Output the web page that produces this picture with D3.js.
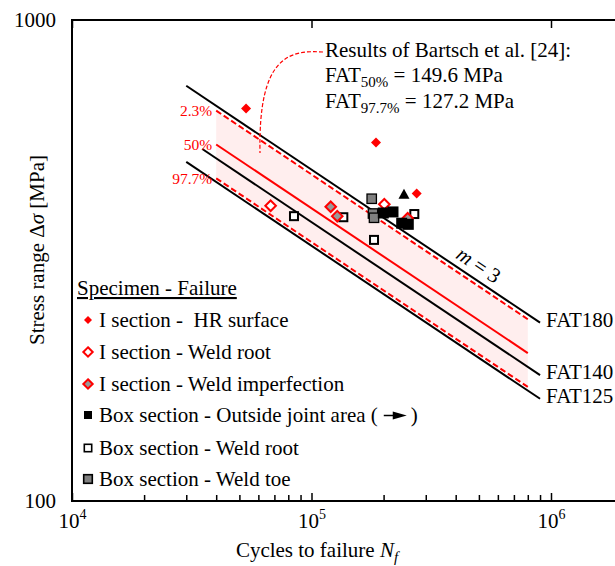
<!DOCTYPE html>
<html>
<head>
<meta charset="utf-8">
<script src="https://cdn.jsdelivr.net/npm/d3@7"></script>
<style>
  body { margin: 0; background: #fff; }
  text { font-family: "Liberation Serif", "Times New Roman", serif; fill: #000; white-space: pre; }
</style>
</head>
<body>
<div id="chart"></div>
<script>
// test results, N = cycles, s = stress range [MPa]
const iHR = [{n: 53300, s: 655}, {n: 185900, s: 556}, {n: 274900, s: 436}];
const iRoot = [{n: 67500, s: 411}, {n: 201400, s: 414}];
const iImp = [{n: 120300, s: 409}, {n: 128100, s: 391}, {n: 252100, s: 387}];
const boxOut = [{n: 199400, s: 397}, {n: 218900, s: 399}, {n: 238000, s: 378}, {n: 253600, s: 376}];
const boxOutUp = [{n: 243300, s: 434}];
const boxRoot = [{n: 84500, s: 391}, {n: 135800, s: 389}, {n: 268700, s: 395}, {n: 182400, s: 349}];
const boxToe = [{n: 178400, s: 425}, {n: 180600, s: 396}, {n: 182400, s: 388}];

// design curves (m = 3, reference at 2e6)
const fatNames = ["FAT180", "FAT140", "FAT125"];
const fatValues = [180, 140, 125];
const fatStart = [3e4, 3.5e4, 3e4];
const fatEnd = 9e5;

// Bartsch et al. scatter band
const bandLabels = ["2.3%", "50%", "97.7%"];
const bandFat = [175.9, 149.6, 127.2];
const bandRange = [4e4, 8e5];

const legendLabels = [
  "I section -  HR surface",
  "I section - Weld root",
  "I section - Weld imperfection",
  "Box section - Outside joint area (",
  "Box section - Weld root",
  "Box section - Weld toe"
];

const xMajor = [1e4, 1e5, 1e6];
const xMinor = [2, 3, 4, 5, 6, 7, 8, 9].flatMap(k => [k * 1e4, k * 1e5]).concat([2e6]);
const yMinor = [200, 300, 400, 500, 600, 700, 800, 900];
const yLabels = [100, 1000];

const width = 615, height = 566;
const red = "#ff0000";
const fs = "21px";

const svg = d3.select("#chart").append("svg")
  .attr("width", width).attr("height", height);

const x = d3.scaleLog().domain([1e4, 1e6]).range([72, 551]);
const y = d3.scaleLog().domain([100, 1000]).range([501, 20]);

const sn = (fat, n) => fat * Math.pow(2e6 / n, 1 / 3);

// scatter band
svg.append("path")
  .attr("d", d3.line()([
    [x(bandRange[0]), y(sn(bandFat[0], bandRange[0]))],
    [x(bandRange[1]), y(sn(bandFat[0], bandRange[1]))],
    [x(bandRange[1]), y(sn(bandFat[2], bandRange[1]))],
    [x(bandRange[0]), y(sn(bandFat[2], bandRange[0]))]
  ]) + "Z")
  .attr("fill", "#ffeeee");

// FAT lines
fatValues.forEach((f, i) => {
  svg.append("line")
    .attr("x1", x(fatStart[i])).attr("y1", y(sn(f, fatStart[i])))
    .attr("x2", x(fatEnd)).attr("y2", y(sn(f, fatEnd)))
    .attr("stroke", "#000").attr("stroke-width", 2);
  svg.append("text")
    .attr("x", x(fatEnd) + 6).attr("y", y(sn(f, fatEnd)) - 3)
    .attr("dy", "0.35em")
    .style("font-size", fs)
    .text(fatNames[i]);
});

// band lines
bandFat.forEach((f, i) => {
  svg.append("line")
    .attr("x1", x(bandRange[0])).attr("y1", y(sn(f, bandRange[0])))
    .attr("x2", x(bandRange[1])).attr("y2", y(sn(f, bandRange[1])))
    .attr("stroke", red).attr("stroke-width", 2)
    .attr("stroke-dasharray", i === 1 ? null : "6,3");
  svg.append("text")
    .attr("x", x(bandRange[0]) - 4).attr("y", y(sn(f, bandRange[0])))
    .attr("dy", "0.35em")
    .attr("text-anchor", "end")
    .style("font-size", "15.5px")
    .style("fill", red)
    .text(bandLabels[i]);
});

// m = 3 label along FAT180
const mN = 4.8e5;
const angle = Math.atan2(y(sn(180, 9e5)) - y(sn(180, 3e4)), x(9e5) - x(3e4)) * 180 / Math.PI;
const mt = svg.append("text")
  .attr("transform", `translate(${x(mN)},${y(sn(180, mN)) - 8}) rotate(${angle})`)
  .attr("text-anchor", "middle")
  .style("font-size", fs);
mt.append("tspan").style("font-style", "italic").text("m");
mt.append("tspan").text(" = 3");

// annotation connector
const conn = [[111700, 858], [81300, 866], [59800, 846], [60950, 529]].map(d => [x(d[0]), y(d[1])]);
svg.append("path")
  .attr("d", `M${conn[0]}C${conn[1]} ${conn[2]} ${conn[3]}`)
  .attr("fill", "none")
  .attr("stroke", red).attr("stroke-width", 1.2)
  .attr("stroke-dasharray", "4,2");

const ann = svg.append("g").style("font-size", fs);
ann.append("text").attr("x", 325).attr("y", 57).text("Results of Bartsch et al. [24]:");
const a2 = ann.append("text").attr("x", 325).attr("y", 82);
a2.append("tspan").text("FAT");
a2.append("tspan").attr("dy", 5).style("font-size", "15px").text("50%");
a2.append("tspan").attr("dy", -5).text(" = 149.6 MPa");
const a3 = ann.append("text").attr("x", 325).attr("y", 108);
a3.append("tspan").text("FAT");
a3.append("tspan").attr("dy", 5).style("font-size", "15px").text("97.7%");
a3.append("tspan").attr("dy", -5).text(" = 127.2 MPa");

// markers
const diamond = (g, px, py, r, fill, stroke, sw) => g.append("path")
  .attr("d", `M${px},${py - r}L${px + r},${py}L${px},${py + r}L${px - r},${py}Z`)
  .attr("fill", fill).attr("stroke", stroke).attr("stroke-width", sw);
const square = (g, px, py, h, fill, stroke, sw) => g.append("rect")
  .attr("x", px - h).attr("y", py - h).attr("width", 2 * h).attr("height", 2 * h)
  .attr("fill", fill).attr("stroke", stroke).attr("stroke-width", sw);

const pts = svg.append("g");
boxRoot.forEach(d => square(pts, x(d.n), y(d.s), 4, "#fff", "#000", 2));
iRoot.forEach(d => diamond(pts, x(d.n), y(d.s), 5.3, "#fff", red, 2));
iImp.forEach(d => diamond(pts, x(d.n), y(d.s), 5.3, "#999", red, 2));
boxToe.forEach(d => square(pts, x(d.n), y(d.s), 4.7, "#808080", "#000", 1.3));
boxOut.forEach(d => square(pts, x(d.n), y(d.s), 5.5, "#000", "none", 0));
boxOutUp.forEach(d => pts.append("path")
  .attr("d", `M${x(d.n)},${y(d.s) - 5.5}L${x(d.n) + 5.5},${y(d.s) + 4.5}L${x(d.n) - 5.5},${y(d.s) + 4.5}Z`)
  .attr("fill", "#000"));
iHR.forEach(d => diamond(pts, x(d.n), y(d.s), 5, red, "none", 0));

// axes
const gTop = svg.append("g").attr("transform", "translate(0,20)");
gTop.call(d3.axisTop(x).tickValues(xMinor).tickSize(-6).tickFormat(""));
gTop.call(d3.axisTop(x).tickValues(xMajor).tickSize(-8).tickFormat(""));

const gBot = svg.append("g").attr("transform", "translate(0,501)");
gBot.call(d3.axisBottom(x).tickValues(xMinor).tickSize(-6).tickFormat(""));
const gBotMaj = svg.append("g").attr("transform", "translate(0,501)")
  .call(d3.axisBottom(x).tickValues(xMajor).tickSize(-8).tickPadding(17).tickFormat(""));
gBotMaj.selectAll(".tick text").each(function(d) {
  const t = d3.select(this).attr("dy", null).attr("y", 27).style("font-size", fs)
    .attr("text-anchor", "middle");
  t.append("tspan").text("10");
  t.append("tspan").attr("dy", -9).style("font-size", "14px").text(Math.round(Math.log10(d)));
});

const gLeft = svg.append("g").attr("transform", "translate(72,0)");
gLeft.call(d3.axisLeft(y).tickValues(yMinor).tickSize(-4).tickFormat(""));
gLeft.call(d3.axisLeft(y).tickValues(yLabels).tickSize(0).tickPadding(16).tickFormat(d3.format("d")))
  .selectAll("text").style("font-size", fs);

[gTop, gBot, gBotMaj, gLeft].forEach(g => {
  g.selectAll(".domain").remove();
  g.selectAll(".tick line").attr("stroke", "#000").attr("stroke-width", 1.5);
});

// frame
svg.append("path")
  .attr("d", `M${width + 5},${y(1000)}H${x(1e4)}V${y(100)}H${width + 5}`)
  .attr("fill", "none").attr("stroke", "#000").attr("stroke-width", 2);

// axis titles
const xt = svg.append("text")
  .attr("x", 317).attr("y", 557)
  .attr("text-anchor", "middle")
  .style("font-size", fs);
xt.append("tspan").text("Cycles to failure ");
xt.append("tspan").style("font-style", "italic").text("N");
xt.append("tspan").attr("dy", 5).style("font-style", "italic").style("font-size", "15px").text("f");

const yt = svg.append("text")
  .attr("transform", "translate(44,250) rotate(-90)")
  .attr("text-anchor", "middle")
  .style("font-size", fs);
yt.append("tspan").text("Stress range Δ");
yt.append("tspan").style("font-style", "italic").text("σ");
yt.append("tspan").text(" [MPa]");

// legend
const leg = svg.append("g").style("font-size", fs);
leg.append("text").attr("x", 77).attr("y", 295)
  .style("text-decoration", "underline")
  .text("Specimen - Failure");
const legY = [320, 352, 384, 415, 448, 479];
const mk = 88;
diamond(leg, mk, legY[0], 4, red, "none", 0);
diamond(leg, mk, legY[1], 4.7, "#fff", red, 2);
diamond(leg, mk, legY[2], 4.7, "#999", red, 2);
square(leg, mk, legY[3], 4, "#000", "none", 0);
square(leg, mk, legY[4], 3.7, "#fff", "#000", 1.6);
square(leg, mk, legY[5], 4.3, "#808080", "#000", 1.6);
legendLabels.forEach((l, i) => {
  const t = leg.append("text").attr("x", 99).attr("y", legY[i]).attr("dy", "0.35em").text(l);
  if (i === 3) {
    const w = t.node().getComputedTextLength();
    const ax = 99 + w + 6, ay = legY[i] + 0.5;
    leg.append("line").attr("x1", ax).attr("y1", ay).attr("x2", ax + 10).attr("y2", ay)
      .attr("stroke", "#000").attr("stroke-width", 1.5);
    leg.append("path").attr("d", `M${ax + 9},${ay - 4}L${ax + 23},${ay}L${ax + 9},${ay + 4}Z`)
      .attr("fill", "#000");
    leg.append("text").attr("x", ax + 27).attr("y", legY[i]).attr("dy", "0.35em").text(")");
  }
});
</script>
</body>
</html>
